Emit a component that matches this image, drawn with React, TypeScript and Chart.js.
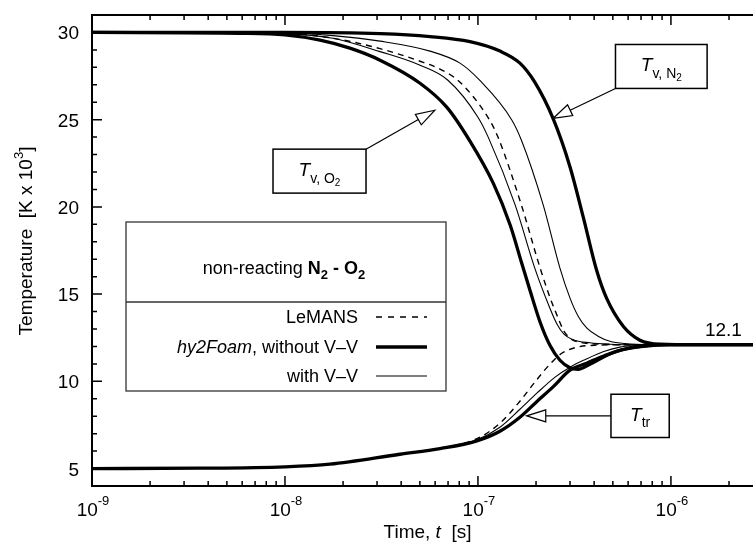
import { useEffect, useRef } from 'react';
import { Chart, registerables } from 'chart.js';

Chart.register(...registerables);

// ---------- axis ranges / ticks ----------
const X_MIN = 1e-9;
const X_MAX = 3e-6;
const Y_MIN = 4;
const Y_MAX = 31;
const xMajorTicks = [1e-9, 1e-8, 1e-7, 1e-6];
const xTickExponents = ['-9', '-8', '-7', '-6'];
const yMajorTicks = [5, 10, 15, 20, 25, 30];

// ---------- data (time [s], temperature [K x 10^3]) ----------
// T_tr
const ttrThickTime = [1e-9, 3.63e-9, 1e-8, 1.71e-8, 3.94e-8, 6.36e-8, 9.88e-8, 1.3e-7, 1.65e-7, 2.01e-7, 2.45e-7, 3.0e-7, 3.66e-7, 4.45e-7, 5.44e-7, 7.16e-7, 9.88e-7, 3e-6];
const ttrThickTemp = [5.0, 5.02, 5.10, 5.25, 5.82, 6.14, 6.59, 7.14, 7.94, 8.82, 9.68, 10.64, 11.04, 11.44, 11.78, 12.01, 12.1, 12.1];
const ttrThinTime = [1e-9, 1e-8, 1.71e-8, 3.94e-8, 6.36e-8, 9.88e-8, 1.3e-7, 1.65e-7, 2.02e-7, 2.51e-7, 3.0e-7, 3.58e-7, 4.45e-7, 5.44e-7, 6.91e-7, 9.88e-7, 3e-6];
const ttrThinTemp = [5.0, 5.10, 5.25, 5.82, 6.14, 6.65, 7.37, 8.40, 9.32, 10.24, 10.81, 11.24, 11.70, 11.96, 12.07, 12.1, 12.1];
const ttrDashTime = [1e-9, 1e-8, 1.71e-8, 3.94e-8, 6.36e-8, 9.88e-8, 1.3e-7, 1.65e-7, 1.97e-7, 2.36e-7, 2.72e-7, 3.18e-7, 4.04e-7, 6.13e-7, 3e-6];
const ttrDashTemp = [5.0, 5.10, 5.25, 5.82, 6.17, 6.71, 7.60, 8.86, 9.95, 10.98, 11.61, 11.93, 12.07, 12.1, 12.1];
// T_v,O2
const o2ThickTime = [1e-9, 5.85e-9, 1e-8, 1.52e-8, 2.17e-8, 3.11e-8, 5.01e-8, 6.89e-8, 9.09e-8, 1.2e-7, 1.47e-7, 1.68e-7, 1.86e-7, 2.1e-7, 2.36e-7, 2.66e-7, 3.0e-7, 3.3e-7, 3.8e-7, 4.55e-7, 5.57e-7, 7.33e-7, 1.11e-6, 3e-6];
const o2ThickTemp = [30.0, 29.95, 29.86, 29.56, 29.10, 28.41, 27.09, 25.72, 23.77, 21.36, 18.95, 16.83, 15.22, 13.39, 12.07, 11.21, 10.78, 10.69, 10.98, 11.44, 11.81, 12.04, 12.1, 12.1];
const o2ThinTime = [1e-9, 1e-8, 1.77e-8, 3.11e-8, 5.01e-8, 6.99e-8, 1.0e-7, 1.13e-7, 1.56e-7, 1.97e-7, 2.36e-7, 2.57e-7, 2.79e-7, 3.1e-7, 3.8e-7, 4.83e-7, 6.91e-7, 3e-6];
const o2ThinTemp = [30.0, 29.92, 29.67, 28.90, 28.12, 27.26, 25.14, 24.0, 20.1, 16.49, 14.19, 13.27, 12.70, 12.39, 12.21, 12.13, 12.1, 12.1];
// T_v (LeMANS)
const tvDashTime = [1e-9, 1e-8, 1.77e-8, 3.11e-8, 5.01e-8, 6.36e-8, 8.07e-8, 1.15e-7, 1.27e-7, 1.68e-7, 2.1e-7, 2.36e-7, 2.6e-7, 2.79e-7, 3.03e-7, 3.38e-7, 4.29e-7, 6.13e-7, 3e-6];
const tvDashTemp = [30.0, 29.94, 29.67, 29.07, 28.35, 27.90, 27.15, 24.97, 24.0, 20.1, 16.49, 14.82, 13.64, 12.88, 12.44, 12.24, 12.13, 12.1, 12.1];
// T_v,N2
const n2ThinTime = [1e-9, 1e-8, 1.77e-8, 3.11e-8, 5.64e-8, 8.07e-8, 1.02e-7, 1.5e-7, 1.68e-7, 2.18e-7, 2.66e-7, 3.0e-7, 3.3e-7, 3.67e-7, 4.19e-7, 4.83e-7, 5.78e-7, 7.78e-7, 3e-6];
const n2ThinTemp = [30.0, 29.97, 29.82, 29.50, 28.93, 28.24, 27.26, 24.97, 23.82, 20.10, 16.49, 14.77, 13.75, 13.05, 12.59, 12.30, 12.16, 12.1, 12.1];
const n2ThickTime = [1e-9, 1e-8, 3.11e-8, 5.64e-8, 9.09e-8, 1.3e-7, 1.65e-7, 1.97e-7, 2.45e-7, 3.0e-7, 3.51e-7, 4.12e-7, 4.64e-7, 5.66e-7, 6.91e-7, 8.77e-7, 1.41e-6, 3e-6];
const n2ThickTemp = [30.0, 30.0, 29.93, 29.76, 29.47, 28.93, 28.24, 27.15, 25.07, 22.29, 19.43, 16.37, 14.77, 13.16, 12.36, 12.13, 12.1, 12.1];

// ---------- legend / annotation text ----------
const legendLabels = ['LeMANS', 'hy2Foam', ', without V\u2013V', 'with V\u2013V'];
// annotation anchors in data coordinates: box [tLeft, tRight, Tbottom, Ttop], arrow tip [t, T]
const o2Box = [8.67e-9, 2.63e-8, 20.79, 23.31];
const o2Tip = [5.98e-8, 25.54];
const n2Box = [5.16e-7, 1.54e-6, 26.79, 29.31];
const n2Tip = [2.45e-7, 25.07];
const ttrBox = [4.89e-7, 9.8e-7, 6.78, 9.26];
const ttrTip = [1.79e-7, 8.02];
const finalLabelPos = [1.5e-6, 13.0];

const FF = '"Liberation Sans", Arial, Helvetica, sans-serif';

type Run = { text: string; font: string; dy?: number };

function richWidth(ctx: CanvasRenderingContext2D, runs: Run[]) {
  let w = 0;
  for (const r of runs) {
    ctx.font = r.font;
    w += ctx.measureText(r.text).width;
  }
  return w;
}

function drawRich(ctx: CanvasRenderingContext2D, runs: Run[], x: number, y: number, align: 'left' | 'center' | 'right') {
  const w = richWidth(ctx, runs);
  let cx = align === 'left' ? x : align === 'center' ? x - w / 2 : x - w;
  ctx.textAlign = 'left';
  ctx.textBaseline = 'alphabetic';
  for (const r of runs) {
    ctx.font = r.font;
    ctx.fillText(r.text, cx, y + (r.dy || 0));
    cx += ctx.measureText(r.text).width;
  }
}

function drawArrow(ctx: CanvasRenderingContext2D, x0: number, y0: number, x1: number, y1: number) {
  const ang = Math.atan2(y1 - y0, x1 - x0);
  const L = 19;
  const W = 6;
  const bx = x1 - L * Math.cos(ang);
  const by = y1 - L * Math.sin(ang);
  ctx.beginPath();
  ctx.moveTo(x0, y0);
  ctx.lineTo(bx, by);
  ctx.stroke();
  ctx.beginPath();
  ctx.moveTo(x1, y1);
  ctx.lineTo(bx + W * Math.sin(ang), by - W * Math.cos(ang));
  ctx.lineTo(bx - W * Math.sin(ang), by + W * Math.cos(ang));
  ctx.closePath();
  ctx.fillStyle = '#fff';
  ctx.fill();
  ctx.stroke();
}

const decorPlugin = {
  id: 'decor',
  afterDraw(chart: any) {
    const { ctx, chartArea: a } = chart;
    const xs = chart.scales.x;
    const ys = chart.scales.y;
    const X = (v: number) => xs.getPixelForValue(v);
    const Y = (v: number) => ys.getPixelForValue(v);
    ctx.save();
    ctx.fillStyle = '#000';
    ctx.strokeStyle = '#000';

    // ticks (inward, all four sides)
    ctx.lineWidth = 1.5;
    ctx.beginPath();
    for (let e = -9; e <= -6; e++) {
      for (let m = 1; m <= 9; m++) {
        const v = m * Math.pow(10, e);
        if (v > X_MAX * 1.0001) continue;
        const px = X(v);
        const len = m === 1 ? 10 : 5;
        ctx.moveTo(px, a.bottom);
        ctx.lineTo(px, a.bottom - len);
        ctx.moveTo(px, a.top);
        ctx.lineTo(px, a.top + len);
      }
    }
    for (let v = Y_MIN; v <= Y_MAX; v++) {
      const py = Y(v);
      const len = yMajorTicks.includes(v) ? 10 : 5;
      ctx.moveTo(a.left, py);
      ctx.lineTo(a.left + len, py);
      ctx.moveTo(a.right, py);
      ctx.lineTo(a.right - len, py);
    }
    ctx.stroke();

    // frame
    ctx.lineWidth = 2;
    ctx.strokeRect(a.left, a.top, a.right - a.left, a.bottom - a.top);

    // y tick labels
    ctx.font = `19px ${FF}`;
    ctx.textAlign = 'right';
    ctx.textBaseline = 'alphabetic';
    for (const v of yMajorTicks) {
      ctx.fillText(String(v), a.left - 13, Y(v) + 7);
    }
    // x tick labels 10^n
    xMajorTicks.forEach((v, i) => {
      drawRich(ctx, [
        { text: '10', font: `19px ${FF}` },
        { text: xTickExponents[i], font: `13px ${FF}`, dy: -11 },
      ], X(v) + 1, a.bottom + 30, 'center');
    });

    // axis titles
    const cxA = (a.left + a.right) / 2;
    drawRich(ctx, [
      { text: 'Time, ', font: `19px ${FF}` },
      { text: 't', font: `italic 19px ${FF}` },
      { text: '  [s]', font: `19px ${FF}` },
    ], cxA, a.bottom + 52, 'center');

    ctx.save();
    ctx.translate(32, 241);
    ctx.rotate(-Math.PI / 2);
    drawRich(ctx, [
      { text: 'Temperature  [K x 10', font: `19px ${FF}` },
      { text: '3', font: `13px ${FF}`, dy: -9 },
      { text: ']', font: `19px ${FF}` },
    ], 0, 0, 'center');
    ctx.restore();

    // legend box
    const lx = a.left + 34;
    const ly = a.top + 207;
    const lw = 320;
    const lh = 169;
    ctx.fillStyle = '#fff';
    ctx.fillRect(lx, ly, lw, lh);
    ctx.strokeStyle = '#333';
    ctx.lineWidth = 1.3;
    ctx.strokeRect(lx, ly, lw, lh);
    ctx.beginPath();
    ctx.moveTo(lx, ly + 80);
    ctx.lineTo(lx + lw, ly + 80);
    ctx.stroke();
    ctx.fillStyle = '#000';
    ctx.strokeStyle = '#000';
    drawRich(ctx, [
      { text: 'non-reacting ', font: `18px ${FF}` },
      { text: 'N', font: `bold 18px ${FF}` },
      { text: '2', font: `bold 13px ${FF}`, dy: 5 },
      { text: ' - O', font: `bold 18px ${FF}` },
      { text: '2', font: `bold 13px ${FF}`, dy: 5 },
    ], lx + lw / 2 - 2, ly + 52, 'center');

    const textRight = lx + 232;
    const sx0 = lx + 250;
    const sx1 = lx + 301;
    const rows = [ly + 95, ly + 125, ly + 154];
    drawRich(ctx, [{ text: legendLabels[0], font: `18px ${FF}` }], textRight, rows[0] + 6, 'right');
    drawRich(ctx, [
      { text: legendLabels[1], font: `italic 18px ${FF}` },
      { text: legendLabels[2], font: `18px ${FF}` },
    ], textRight, rows[1] + 6, 'right');
    drawRich(ctx, [{ text: legendLabels[3], font: `18px ${FF}` }], textRight, rows[2] + 6, 'right');
    // samples
    ctx.lineWidth = 1.4;
    ctx.setLineDash([6, 6]);
    ctx.beginPath(); ctx.moveTo(sx0, rows[0]); ctx.lineTo(sx1, rows[0]); ctx.stroke();
    ctx.setLineDash([]);
    ctx.lineWidth = 3.4;
    ctx.beginPath(); ctx.moveTo(sx0, rows[1]); ctx.lineTo(sx1, rows[1]); ctx.stroke();
    ctx.lineWidth = 1.2;
    ctx.beginPath(); ctx.moveTo(sx0, rows[2]); ctx.lineTo(sx1, rows[2]); ctx.stroke();

    // annotation boxes
    const box = (b: number[]) => {
      const x0 = X(b[0]), x1 = X(b[1]), y0 = Y(b[3]), y1 = Y(b[2]);
      ctx.fillStyle = '#fff';
      ctx.fillRect(x0, y0, x1 - x0, y1 - y0);
      ctx.strokeStyle = '#000';
      ctx.lineWidth = 1.5;
      ctx.strokeRect(x0, y0, x1 - x0, y1 - y0);
      ctx.fillStyle = '#000';
      return { x0, x1, y0, y1, cx: (x0 + x1) / 2, cy: (y0 + y1) / 2 };
    };

    // T_v,O2
    {
      const r = box(o2Box);
      ctx.lineWidth = 1.2;
      drawArrow(ctx, r.x1, r.y0, X(o2Tip[0]), Y(o2Tip[1]));
      ctx.fillStyle = '#000';
      drawRich(ctx, [
        { text: 'T', font: `italic 19px ${FF}` },
        { text: 'v, O', font: `14px ${FF}`, dy: 7 },
        { text: '2', font: `10px ${FF}`, dy: 10 },
      ], r.cx, r.cy + 5, 'center');
    }
    // T_v,N2
    {
      const r = box(n2Box);
      ctx.lineWidth = 1.2;
      drawArrow(ctx, r.x0, r.y1, X(n2Tip[0]), Y(n2Tip[1]));
      ctx.fillStyle = '#000';
      drawRich(ctx, [
        { text: 'T', font: `italic 19px ${FF}` },
        { text: 'v, N', font: `14px ${FF}`, dy: 7 },
        { text: '2', font: `10px ${FF}`, dy: 10 },
      ], r.cx, r.cy + 5, 'center');
    }
    // T_tr
    {
      const r = box(ttrBox);
      ctx.lineWidth = 1.2;
      drawArrow(ctx, r.x0, Y(ttrTip[1]), X(ttrTip[0]), Y(ttrTip[1]));
      ctx.fillStyle = '#000';
      drawRich(ctx, [
        { text: 'T', font: `italic 19px ${FF}` },
        { text: 'tr', font: `14px ${FF}`, dy: 6 },
      ], r.cx, r.cy + 5, 'center');
    }

    // final value label
    ctx.fillStyle = '#000';
    drawRich(ctx, [{ text: ttrThickTemp[ttrThickTemp.length - 1].toFixed(1), font: `19px ${FF}` }],
      X(finalLabelPos[0]), Y(finalLabelPos[1]) + 7, 'left');

    ctx.restore();
  },
};

function series(times: number[], temps: number[]) {
  return times.map((t, i) => ({ x: t, y: temps[i] }));
}

const THICK = 3.3;
const THIN = 1.1;
const DASH = 1.4;

export default function App() {
  const ref = useRef<HTMLCanvasElement>(null);
  useEffect(() => {
    const mk = (label: string, t: number[], T: number[], w: number, dash: number[] = []) => ({
      label,
      data: series(t, T),
      borderColor: '#000',
      backgroundColor: '#000',
      borderWidth: w,
      borderDash: dash,
      pointRadius: 0,
      fill: false,
      cubicInterpolationMode: 'monotone' as const,
    });
    const chart = new Chart(ref.current!, {
      type: 'line',
      data: {
        datasets: [
          mk('Ttr LeMANS', ttrDashTime, ttrDashTemp, DASH, [6, 5]),
          mk('Ttr with V-V', ttrThinTime, ttrThinTemp, THIN),
          mk('Ttr without V-V', ttrThickTime, ttrThickTemp, THICK),
          mk('Tv LeMANS', tvDashTime, tvDashTemp, DASH, [6, 5]),
          mk('Tv,O2 with V-V', o2ThinTime, o2ThinTemp, THIN),
          mk('Tv,N2 with V-V', n2ThinTime, n2ThinTemp, THIN),
          mk('Tv,O2 without V-V', o2ThickTime, o2ThickTemp, THICK),
          mk('Tv,N2 without V-V', n2ThickTime, n2ThickTemp, THICK),
        ],
      },
      options: {
        animation: false,
        responsive: false,
        devicePixelRatio: 1,
        parsing: false as any,
        layout: { padding: { left: 92, right: 18, top: 15, bottom: 62 } },
        plugins: { legend: { display: false }, tooltip: { enabled: false } },
        scales: {
          x: { type: 'logarithmic', min: X_MIN, max: X_MAX, display: false },
          y: { type: 'linear', min: Y_MIN, max: Y_MAX, display: false },
        },
      },
      plugins: [decorPlugin],
    });
    return () => chart.destroy();
  }, []);
  return (
    <div style={{ position: 'absolute', left: 0, top: 0, width: 753, height: 548, overflow: 'hidden', background: '#fff' }}>
      <canvas ref={ref} width={781} height={548} style={{ display: 'block', width: 781, height: 548 }} />
    </div>
  );
}
